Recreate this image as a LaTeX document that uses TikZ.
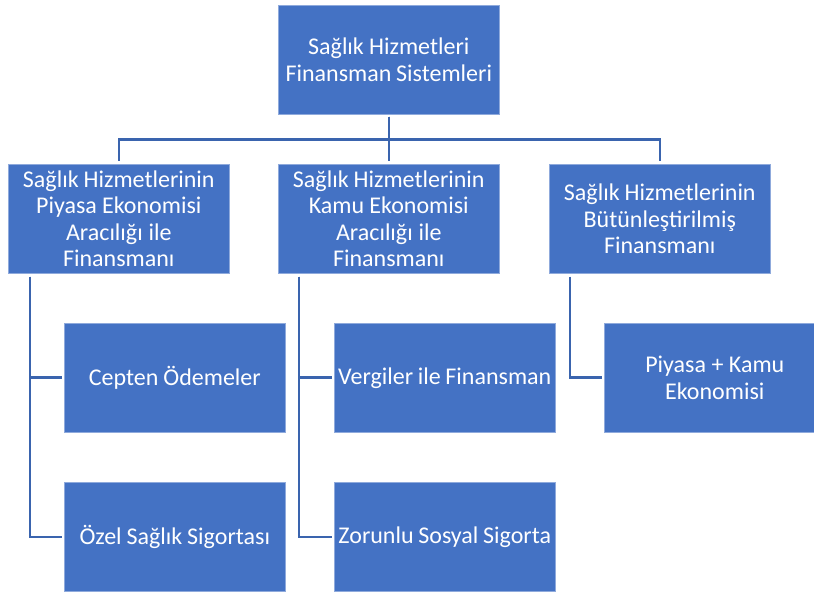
\documentclass[tikz,border=0pt]{standalone}
\usepackage{fontspec}
\setmainfont{Carlito}
\definecolor{boxblue}{HTML}{4472C4}
\definecolor{boxedge}{HTML}{8FAADC}
\definecolor{linkblue}{HTML}{3A64AE}
\begin{document}
\begin{tikzpicture}[x=1pt,y=-1pt,
  box/.style={fill=boxblue,draw=boxedge,line width=0.6pt,minimum width=221pt,minimum height=109pt,
    text width=219pt,align=center,text=white,inner sep=0pt,anchor=north west,
    font=\fontsize{24}{26.5}\selectfont,
    execute at begin node={\spaceskip=4.6pt plus 1pt\relax}},
  conn/.style={draw=linkblue,line width=2.6pt}]
\useasboundingbox (0,0) rectangle (814,593);
\node[box] (top) at (278,5) {Sağlık Hizmetleri\\Finansman Sistemleri};
\node[box] (a) at (8,164) {Sağlık Hizmetlerinin\\Piyasa Ekonomisi\\Aracılığı ile\\Finansmanı};
\node[box] (b) at (278,164) {Sağlık Hizmetlerinin\\Kamu Ekonomisi\\Aracılığı ile\\Finansmanı};
\node[box] (c) at (549,164) {Sağlık Hizmetlerinin\\Bütünleştirilmiş\\Finansmanı};
\node[box] (a1) at (64,323) {Cepten Ödemeler};
\node[box] (a2) at (64,482) {Özel Sağlık Sigortası};
\node[box] (b1) at (334,323) {Vergiler ile Finansman};
\node[box] (b2) at (334,482) {Zorunlu Sosyal Sigorta};
\node[box] (c1) at (604,323) {Piyasa + Kamu\\Ekonomisi};
\draw[conn] ([yshift=-2pt]top.south) -- ++(0,23) -| ([yshift=3pt]a.north);
\draw[conn] ([yshift=-2pt]top.south) -- ++(0,23) -| ([yshift=3pt]b.north);
\draw[conn] ([yshift=-2pt]top.south) -- ++(0,23) -| ([yshift=3pt]c.north);
\draw[conn] ([shift={(22,3)}]a.south west) |- ([xshift=-2pt]a2.west);
\draw[conn] ([shift={(22,3)}]a.south west) |- ([xshift=-2pt]a1.west);
\draw[conn] ([shift={(21,3)}]b.south west) |- ([xshift=-2pt]b2.west);
\draw[conn] ([shift={(21,3)}]b.south west) |- ([xshift=-2pt]b1.west);
\draw[conn] ([shift={(21,3)}]c.south west) |- ([xshift=-2pt]c1.west);
\end{tikzpicture}
\end{document}
